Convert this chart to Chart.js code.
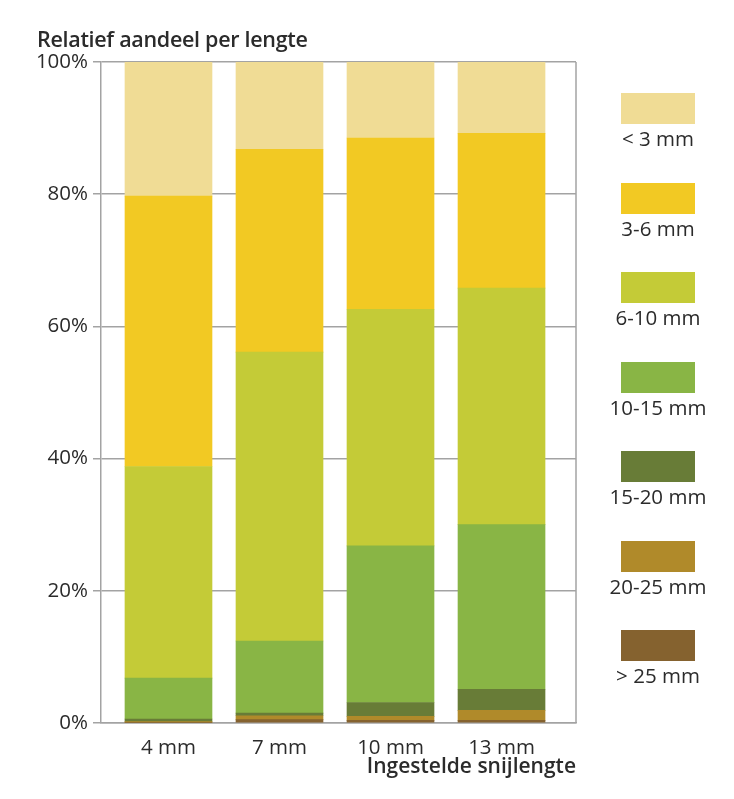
<!DOCTYPE html>
<html>
<head>
<meta charset="utf-8">
<script src="https://cdn.jsdelivr.net/npm/chart.js@4.4.1/dist/chart.umd.min.js"></script>
<style>
    body { margin: 0; background: #fff; }
    #wrap { position: relative; width: 734px; height: 799px; }
    #title { position: absolute; left: 37px; top: 24px; font: 600 21.5px "Open Sans", sans-serif; color: #2b2b2b; letter-spacing: -0.3px; }
    .lg-box { position: absolute; left: 621px; width: 74px; height: 31px; }
    .lg-text { position: absolute; left: 593px; width: 130px; text-align: center; font: 20.5px "Open Sans", sans-serif; color: #2b2b2b; }
</style>
</head>
<body>
<div id="wrap">
    <canvas id="lengthChart" width="734" height="799"></canvas>
    <div id="title">Relatief aandeel per lengte</div>
</div>
<script>
// Categories (set cutting length)
const categories = ['4 mm', '7 mm', '10 mm', '13 mm'];

// Share per length class (%), bottom to top
const over25 = [0.1, 0.5, 0.4, 0.4];
const from20to25 = [0.1, 0.6, 0.6, 1.5];
const from15to20 = [0.4, 0.4, 2.1, 3.2];
const from10to15 = [6.2, 10.9, 23.7, 24.9];
const from6to10 = [32.0, 43.7, 35.8, 35.8];
const from3to6 = [40.9, 30.7, 25.9, 23.4];
const under3 = [20.3, 13.2, 11.5, 10.8];

const yTicks = [0, 20, 40, 60, 80, 100];

const series = [
    { label: '> 25 mm', data: over25, color: '#85622f' },
    { label: '20-25 mm', data: from20to25, color: '#b08a2a' },
    { label: '15-20 mm', data: from15to20, color: '#687c37' },
    { label: '10-15 mm', data: from10to15, color: '#89b545' },
    { label: '6-10 mm', data: from6to10, color: '#c4cb37' },
    { label: '3-6 mm', data: from3to6, color: '#f2c923' },
    { label: '< 3 mm', data: under3, color: '#f0dc95' }
];

const gridColor = '#a3a3a3';

// Right border of plot area
const rightBorder = {
    id: 'rightBorder',
    afterDraw(chart) {
        const { ctx, chartArea } = chart;
        ctx.save();
        ctx.strokeStyle = gridColor;
        ctx.lineWidth = 1.5;
        ctx.beginPath();
        ctx.moveTo(chartArea.right, chartArea.top);
        ctx.lineTo(chartArea.right, chartArea.bottom);
        ctx.stroke();
        ctx.restore();
    }
};

const ctx = document.getElementById('lengthChart').getContext('2d');

new Chart(ctx, {
    type: 'bar',
    data: {
        datasets: series.map(s => ({
            label: s.label,
            data: s.data.map((v, i) => ({ x: i, y: v })),
            backgroundColor: s.color,
            borderWidth: 0,
            barThickness: 87
        }))
    },
    options: {
        responsive: false,
        animation: false,
        layout: { padding: { top: 62, right: 158, bottom: 0, left: 0 } },
        plugins: {
            legend: { display: false },
            tooltip: { enabled: false }
        },
        scales: {
            x: {
                type: 'linear',
                stacked: true,
                offset: false,
                min: -0.608,
                max: 3.671,
                afterBuildTicks: scale => {
                    scale.ticks = categories.map((c, i) => ({ value: i }));
                },
                afterFit: scale => { scale.height = 76; },
                grid: { display: false, offset: false },
                border: { color: gridColor, width: 1.5 },
                ticks: {
                    autoSkip: false,
                    maxRotation: 0,
                    padding: 5,
                    color: '#2b2b2b',
                    font: { family: 'Open Sans', size: 20.5 },
                    callback: v => categories[v]
                },
                title: {
                    display: true,
                    text: 'Ingestelde snijlengte',
                    align: 'end',
                    color: '#2b2b2b',
                    font: { family: 'Open Sans', size: 21, weight: '600' },
                    padding: { top: 0, bottom: 19 }
                }
            },
            y: {
                stacked: true,
                min: 0,
                max: 100,
                afterBuildTicks: scale => {
                    scale.ticks = yTicks.map(v => ({ value: v }));
                },
                afterFit: scale => { scale.width = 101; },
                grid: { color: gridColor, lineWidth: 1.5, tickLength: 8 },
                border: { color: gridColor, width: 1.5 },
                ticks: {
                    padding: 5,
                    color: '#2b2b2b',
                    font: { family: 'Open Sans', size: 20.5 },
                    callback: v => v + '%'
                }
            }
        }
    },
    plugins: [rightBorder]
});

// Legend: boxes with label underneath, top entry first
const wrap = document.getElementById('wrap');
series.slice().reverse().forEach((s, i) => {
    const top = 93 + i * 89.5;
    const box = document.createElement('div');
    box.className = 'lg-box';
    box.style.top = top + 'px';
    box.style.background = s.color;
    wrap.appendChild(box);
    const txt = document.createElement('div');
    txt.className = 'lg-text';
    txt.style.top = (top + 31) + 'px';
    txt.textContent = s.label;
    wrap.appendChild(txt);
});
</script>
</body>
</html>
